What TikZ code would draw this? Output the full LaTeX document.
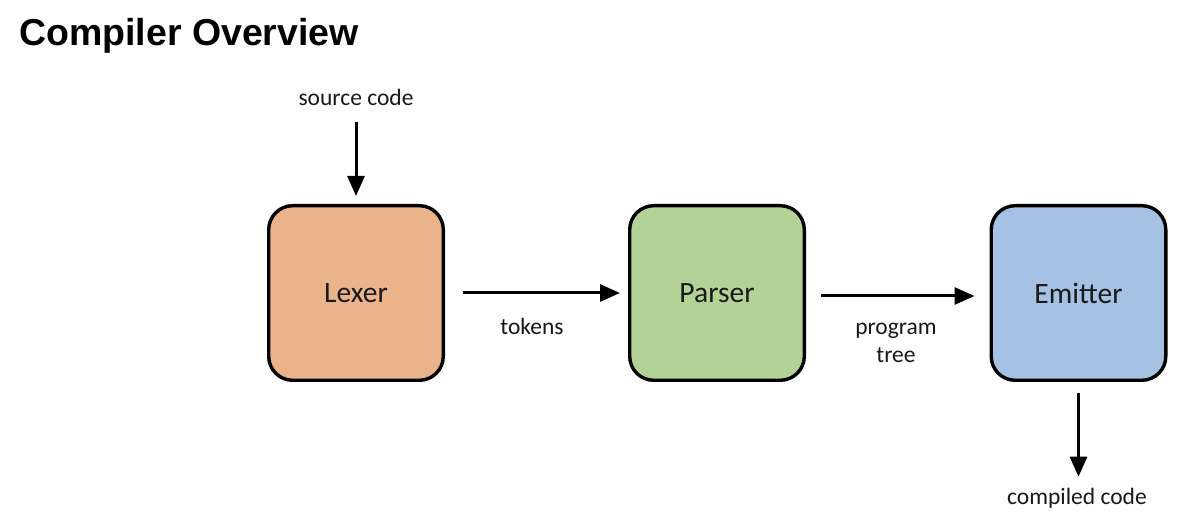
\documentclass[tikz,border=0pt]{standalone}
\usepackage{fontspec}
\setmainfont{Carlito}
\newfontfamily\titlefont{Liberation Sans}
\usetikzlibrary{arrows.meta}

\tikzset{
  stage/.style={draw=black,line width=3.4pt,rounded corners=24pt,minimum size=174.6pt,
    inner sep=0pt,text=black!90,font=\fontsize{29.5}{34}\selectfont},
  flow/.style={line width=3pt,-{Triangle[length=20pt,width=17pt]}},
  lbl/.style={anchor=base,inner sep=0pt,outer sep=0pt,text=black!90,
    font=\fontsize{23.5}{28}\selectfont}
}

\begin{document}
\begin{tikzpicture}[x=1pt,y=1pt]
\definecolor{fillColor}{RGB}{255,255,255}
\path[use as bounding box,fill=fillColor] (0,0) rectangle (1194,530);

\node[anchor=base west,inner sep=0pt,font=\titlefont\bfseries\fontsize{37.5}{44}\selectfont] (title) at (19,484) {Compiler Overview};

\definecolor{lexerColor}{RGB}{234,179,138}
\definecolor{parserColor}{RGB}{179,210,150}
\definecolor{emitterColor}{RGB}{165,194,228}

\node[stage,fill=lexerColor] (lexer) at (356,237) {Lexer};
\node[stage,fill=parserColor] (parser) at (717,237) {Parser};
\node[stage,fill=emitterColor] (emitter) at (1078.5,237) {Emitter};

\node[lbl] (source) at (356,424) {source code};
\node[lbl] (tokens) at (532,195) {tokens};
\node[lbl,align=center] (tree) at (896,167) {program\\tree};
\node[lbl] (compiled) at (1077,25) {compiled code};

\draw[flow,shorten <=16pt,shorten >=8pt] (source) -- (lexer);
\draw[flow,shorten <=18pt,shorten >=8pt] (lexer.east) -- (parser.west);
\draw[flow,shorten <=15pt,shorten >=15pt] ([yshift=-3pt]parser.east) -- ([yshift=-3pt]emitter.west);
\draw[flow,shorten <=11pt,shorten >=12pt] (emitter.south) -- (emitter.south |- compiled.north);
\end{tikzpicture}
\end{document}
